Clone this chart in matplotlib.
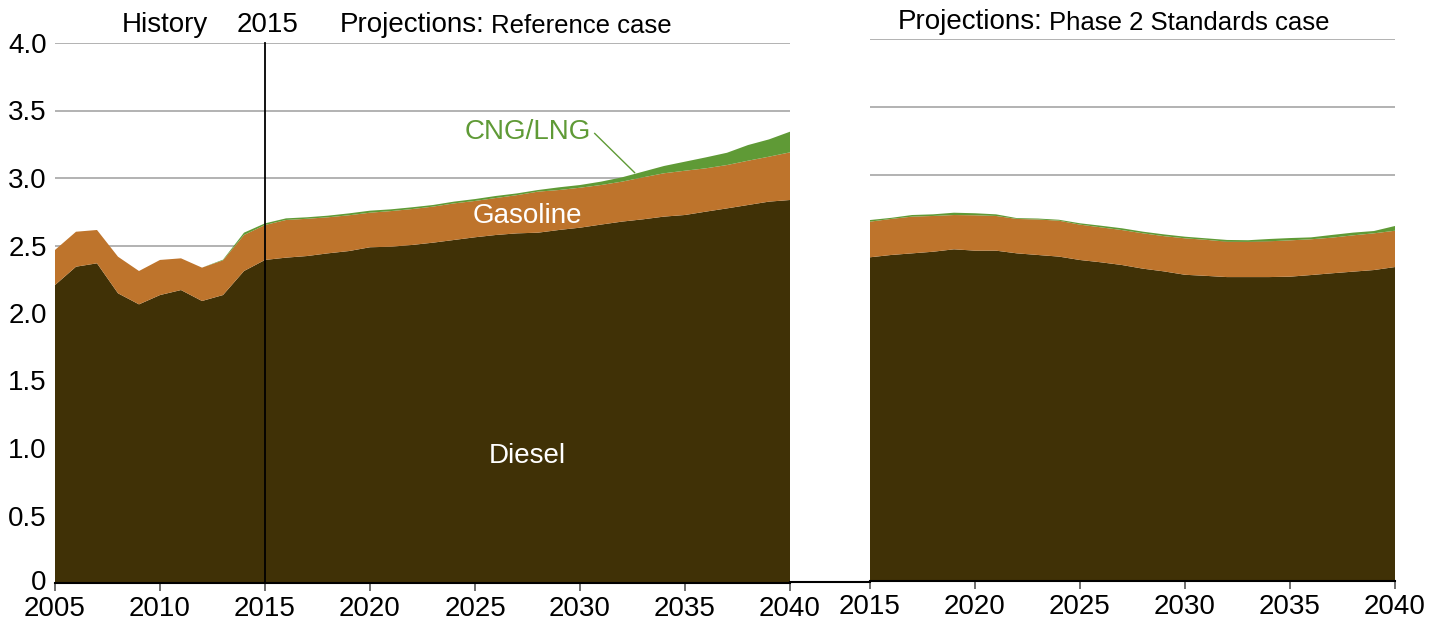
import matplotlib
matplotlib.use("Agg")
import matplotlib.pyplot as plt
from matplotlib.lines import Line2D
import matplotlib.transforms as mtransforms
import numpy as np

plt.rcParams['font.family'] = ['Liberation Sans', 'DejaVu Sans']

# ---------------- data ----------------
years_ref = list(range(2005, 2041))
diesel_ref = [2.207, 2.343, 2.368, 2.146, 2.064, 2.133, 2.170, 2.089, 2.133, 2.311,
              2.393, 2.410, 2.422, 2.442, 2.459, 2.487, 2.491, 2.504, 2.521, 2.541,
              2.561, 2.578, 2.590, 2.595, 2.615, 2.632, 2.655, 2.677, 2.694, 2.714,
              2.726, 2.751, 2.775, 2.800, 2.825, 2.837]
gasoline_ref = [0.260, 0.259, 0.247, 0.271, 0.247, 0.260, 0.235, 0.247, 0.257, 0.267,
                0.259, 0.279, 0.276, 0.267, 0.265, 0.256, 0.264, 0.266, 0.267, 0.271,
                0.269, 0.274, 0.283, 0.304, 0.296, 0.296, 0.293, 0.296, 0.311, 0.321,
                0.328, 0.321, 0.321, 0.328, 0.333, 0.353]
cng_ref = [0.0, 0.0, 0.0, 0.0, 0.0, 0.0, 0.0, 0.0, 0.005, 0.017,
           0.012, 0.012, 0.011, 0.012, 0.014, 0.015, 0.013, 0.013, 0.012, 0.013,
           0.014, 0.015, 0.013, 0.012, 0.020, 0.020, 0.025, 0.032, 0.042, 0.054,
           0.067, 0.081, 0.091, 0.116, 0.128, 0.153]

years_ph2 = list(range(2015, 2041))
diesel_ph2 = [2.389, 2.406, 2.418, 2.430, 2.448, 2.438, 2.438, 2.418, 2.406, 2.394,
              2.369, 2.352, 2.332, 2.305, 2.285, 2.260, 2.252, 2.243, 2.243, 2.243,
              2.246, 2.258, 2.271, 2.283, 2.295, 2.317]
gasoline_ph2 = [0.263, 0.266, 0.271, 0.264, 0.253, 0.261, 0.256, 0.254, 0.262, 0.265,
                0.261, 0.258, 0.258, 0.261, 0.260, 0.269, 0.266, 0.261, 0.260, 0.264,
                0.268, 0.264, 0.263, 0.268, 0.271, 0.268]
cng_ph2 = [0.012, 0.008, 0.012, 0.012, 0.017, 0.015, 0.012, 0.006, 0.007, 0.007,
           0.010, 0.012, 0.013, 0.012, 0.013, 0.012, 0.011, 0.013, 0.012, 0.017,
           0.017, 0.014, 0.020, 0.020, 0.017, 0.035]

ytick_vals = [0, 0.5, 1.0, 1.5, 2.0, 2.5, 3.0, 3.5, 4.0]
ytick_labels = ['0', '0.5', '1.0', '1.5', '2.0', '2.5', '3.0', '3.5', '4.0']
xticks_ref = [2005, 2010, 2015, 2020, 2025, 2030, 2035, 2040]
xticks_ph2 = [2015, 2020, 2025, 2030, 2035, 2040]

C_DIESEL = '#403106'
C_GAS = '#BE742C'
C_CNG = '#5F9A36'
C_GRID = '#A6A6A6'

W, H = 1430, 626
fig = plt.figure(figsize=(W / 100, H / 100), dpi=100)

def px_rect(x0, x1, y_bottom, y_top):
    return [x0 / W, (H - y_bottom) / H, (x1 - x0) / W, (y_bottom - y_top) / H]

ax1 = fig.add_axes(px_rect(55, 790, 583, 43))
ax2 = fig.add_axes(px_rect(870, 1395, 581, 39))

for ax, yrs, d, g, c, xt in [(ax1, years_ref, diesel_ref, gasoline_ref, cng_ref, xticks_ref),
                             (ax2, years_ph2, diesel_ph2, gasoline_ph2, cng_ph2, xticks_ph2)]:
    ax.stackplot(yrs, d, g, c, colors=[C_DIESEL, C_GAS, C_CNG], linewidth=0, zorder=2)
    ax.set_xlim(yrs[0], yrs[-1])
    ax.set_ylim(0, 4.0)
    for v in ytick_vals[1:]:
        ax.axhline(v, color=C_GRID, lw=1.2, zorder=1)
    for s in ['top', 'right', 'left']:
        ax.spines[s].set_visible(False)
    ax.spines['bottom'].set_color('black')
    ax.spines['bottom'].set_linewidth(1.5)
    ax.spines['bottom'].set_zorder(5)
    ax.set_xticks(xt)
    ax.set_xticklabels([str(x) for x in xt], fontsize=20)
    ax.tick_params(axis='x', direction='out', length=6, width=1.2, color='#555555', pad=3)
    ax.set_facecolor('none')

ax1.set_yticks(ytick_vals)
ax1.set_yticklabels(ytick_labels, fontsize=20)
ax1.tick_params(axis='y', length=0, pad=6)
ax2.set_yticks([])
# nudge the "0" label up a little so it clears the 2005 label
zero_lbl = ax1.get_yticklabels()[0]
zero_lbl.set_transform(zero_lbl.get_transform() +
                       mtransforms.ScaledTranslation(0, 3 / 100, fig.dpi_scale_trans))

# 2015 divider
ax1.plot([2015, 2015], [0, 4.0], color='black', lw=1.3, zorder=4, clip_on=False)

# series labels
ax1.text(2027.5, 0.94, 'Diesel', color='white', fontsize=20, ha='center', va='center', zorder=6)
ax1.text(2027.5, 2.72, 'Gasoline', color='white', fontsize=20, ha='center', va='center', zorder=6)
ax1.text(2027.5, 3.34, 'CNG/LNG', color=C_CNG, fontsize=20, ha='center', va='center', zorder=6)
ax1.plot([2030.7, 2032.6], [3.33, 3.04], color=C_CNG, lw=1.0, zorder=6)

# connector line between panels
fig.add_artist(Line2D([790 / W, 870 / W], [(H - 581.5) / H, (H - 581.5) / H],
                      color='black', lw=1.5))

# headers
def fy(y):
    return (H - y) / H

fig.text(165 / W, fy(25), 'History', fontsize=20, ha='center', va='center')
fig.text(268 / W, fy(25), '2015', fontsize=20, ha='center', va='center')
t1 = fig.text(340 / W, fy(25), 'Projections:', fontsize=20, ha='left', va='center')
t2 = fig.text(898 / W, fy(22), 'Projections:', fontsize=20, ha='left', va='center')
fig.canvas.draw()
r = fig.canvas.get_renderer()
b1 = t1.get_window_extent(r)
b2 = t2.get_window_extent(r)
fig.text((b1.x1 + 6) / W, fy(26), 'Reference case', fontsize=18.5, ha='left', va='center')
fig.text((b2.x1 + 6) / W, fy(23), 'Phase 2 Standards case', fontsize=18.5, ha='left', va='center')

fig.savefig('out.png', dpi=100, facecolor='white')
